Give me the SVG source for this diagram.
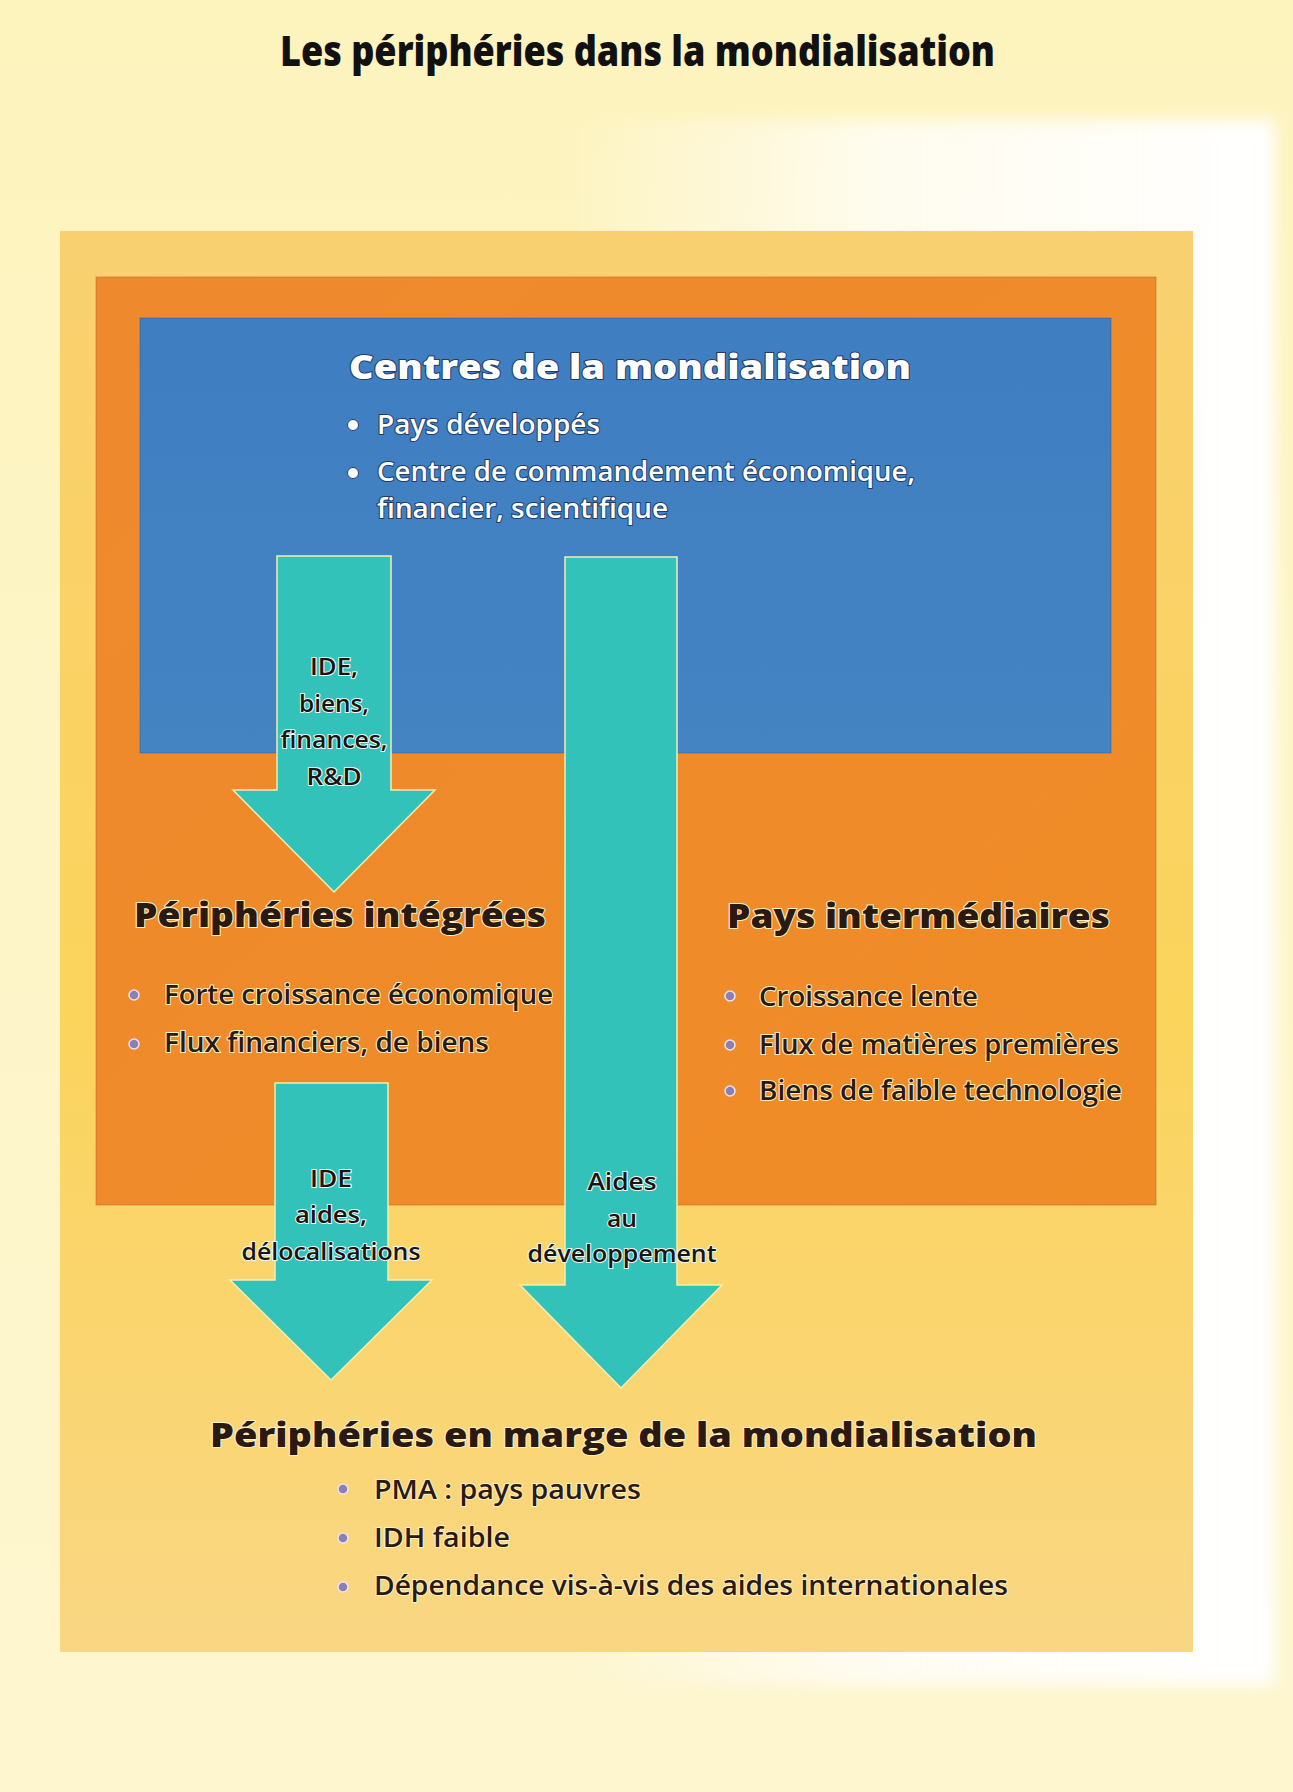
<svg xmlns="http://www.w3.org/2000/svg" width="1293" height="1792" viewBox="0 0 1293 1792">
  <defs>
    <linearGradient id="pageGrad" x1="0" y1="0" x2="0" y2="1">
      <stop offset="0" stop-color="#fdf3bd"/>
      <stop offset="0.5" stop-color="#fdf5c8"/>
      <stop offset="1" stop-color="#fdf6cf"/>
    </linearGradient>
    <linearGradient id="whiteFade" x1="0" y1="0" x2="1" y2="0">
      <stop offset="0" stop-color="#ffffff" stop-opacity="0"/>
      <stop offset="0.45" stop-color="#ffffff" stop-opacity="0.75"/>
      <stop offset="1" stop-color="#ffffff" stop-opacity="1"/>
    </linearGradient>
    <linearGradient id="outerGrad" x1="0" y1="0" x2="0" y2="1">
      <stop offset="0" stop-color="#f9d070"/>
      <stop offset="0.55" stop-color="#fbd45c"/>
      <stop offset="1" stop-color="#f9d683"/>
    </linearGradient>
    <linearGradient id="orangeGrad" x1="0" y1="0" x2="1" y2="1">
      <stop offset="0" stop-color="#ee892e"/>
      <stop offset="1" stop-color="#f08c26"/>
    </linearGradient>
    <linearGradient id="blueGrad" x1="0" y1="0" x2="0" y2="1">
      <stop offset="0" stop-color="#3e7ec1"/>
      <stop offset="1" stop-color="#4584c3"/>
    </linearGradient>
    <filter id="soft" x="-5%" y="-5%" width="110%" height="110%">
      <feGaussianBlur stdDeviation="8"/>
    </filter>
    <style>
      .title { font-family: "Open Sans", "Noto Sans", "DejaVu Sans", sans-serif; font-weight: 800; font-size: 42px; fill: #111; }
      .head { font-family: "Open Sans", "Noto Sans", "DejaVu Sans", sans-serif; font-weight: 800; font-size: 34px; }
      .item { font-family: "Open Sans", "Noto Sans", "DejaVu Sans", sans-serif; font-weight: 600; font-size: 27px; }
      .lbl { font-family: "Open Sans", "Noto Sans", "DejaVu Sans", sans-serif; font-weight: 600; font-size: 24px; fill: #1c1410; stroke: #eafaf6; stroke-width: 2; paint-order: stroke; text-anchor: middle; }
      .light { fill: #ffffff; stroke: #1f3d6c; stroke-width: 2; paint-order: stroke; }
      .dark { fill: #2a1a12; stroke: #fff1c4; stroke-width: 2; paint-order: stroke; }
      .wdot { fill: #ffffff; stroke: #24426f; stroke-width: 1; }
      .pdot { fill: #8a80b6; stroke: #efe2ef; stroke-width: 1.5; }
      .arrow { fill: #33c2ba; stroke: #f6eeb0; stroke-width: 1.5; stroke-linejoin: miter; }
    </style>
  </defs>

  <!-- page background -->
  <rect x="0" y="0" width="1293" height="1792" fill="url(#pageGrad)"/>
  <rect x="560" y="120" width="715" height="1565" fill="url(#whiteFade)" filter="url(#soft)"/>

  <!-- title -->
  <text class="title" x="280" y="66" textLength="715" lengthAdjust="spacingAndGlyphs">Les périphéries dans la mondialisation</text>

  <!-- frames -->
  <rect x="60" y="231" width="1133" height="1421" fill="url(#outerGrad)"/>
  <rect x="96" y="277" width="1060" height="928" fill="url(#orangeGrad)" stroke="#b8662a" stroke-width="1" stroke-opacity="0.5"/>

  <!-- Centres -->
  <g id="node-centres">
    <rect x="140" y="318" width="971" height="435" fill="url(#blueGrad)" stroke="#2d5e94" stroke-width="1" stroke-opacity="0.5"/>
    <text class="head light" x="349" y="379" textLength="562" lengthAdjust="spacingAndGlyphs">Centres de la mondialisation</text>
    <circle class="wdot" cx="353" cy="425" r="5.5"/>
    <text class="item light" x="377" y="434" textLength="223" lengthAdjust="spacingAndGlyphs">Pays développés</text>
    <circle class="wdot" cx="353" cy="473" r="5.5"/>
    <text class="item light" x="377" y="481" textLength="538" lengthAdjust="spacingAndGlyphs">Centre de commandement économique,</text>
    <text class="item light" x="377" y="518" textLength="291" lengthAdjust="spacingAndGlyphs">financier, scientifique</text>
  </g>

  <!-- Périphéries intégrées -->
  <g id="node-integrees">
    <text class="head dark" x="134" y="927" textLength="412" lengthAdjust="spacingAndGlyphs">Périphéries intégrées</text>
    <circle class="pdot" cx="134" cy="995" r="5"/>
    <text class="item dark" x="164" y="1004" textLength="389" lengthAdjust="spacingAndGlyphs">Forte croissance économique</text>
    <circle class="pdot" cx="134" cy="1044" r="5"/>
    <text class="item dark" x="164" y="1052" textLength="325" lengthAdjust="spacingAndGlyphs">Flux financiers, de biens</text>
  </g>

  <!-- Pays intermédiaires -->
  <g id="node-intermediaires">
    <text class="head dark" x="727" y="928" textLength="383" lengthAdjust="spacingAndGlyphs">Pays intermédiaires</text>
    <circle class="pdot" cx="730" cy="996" r="5"/>
    <text class="item dark" x="759" y="1006" textLength="219" lengthAdjust="spacingAndGlyphs">Croissance lente</text>
    <circle class="pdot" cx="730" cy="1045" r="5"/>
    <text class="item dark" x="759" y="1054" textLength="360" lengthAdjust="spacingAndGlyphs">Flux de matières premières</text>
    <circle class="pdot" cx="730" cy="1091" r="5"/>
    <text class="item dark" x="759" y="1100" textLength="363" lengthAdjust="spacingAndGlyphs">Biens de faible technologie</text>
  </g>

  <!-- Périphéries en marge -->
  <g id="node-marge">
    <text class="head dark" x="210" y="1447" textLength="827" lengthAdjust="spacingAndGlyphs">Périphéries en marge de la mondialisation</text>
    <circle class="pdot" cx="343" cy="1489" r="5"/>
    <text class="item dark" x="374" y="1499" textLength="267" lengthAdjust="spacingAndGlyphs">PMA : pays pauvres</text>
    <circle class="pdot" cx="343" cy="1538" r="5"/>
    <text class="item dark" x="374" y="1547" textLength="136" lengthAdjust="spacingAndGlyphs">IDH faible</text>
    <circle class="pdot" cx="343" cy="1587" r="5"/>
    <text class="item dark" x="374" y="1595" textLength="634" lengthAdjust="spacingAndGlyphs">Dépendance vis-à-vis des aides internationales</text>
  </g>

  <!-- connectors -->
  <g id="connectors">
    <g id="arrow-centres-integrees">
      <polygon class="arrow" points="277,556 391,556 391,790 435,790 334,892 233,790 277,790"/>
      <text class="lbl" x="334" y="675" textLength="48" lengthAdjust="spacingAndGlyphs">IDE,</text>
      <text class="lbl" x="334" y="712" textLength="70" lengthAdjust="spacingAndGlyphs">biens,</text>
      <text class="lbl" x="334" y="748" textLength="107" lengthAdjust="spacingAndGlyphs">finances,</text>
      <text class="lbl" x="334" y="785" textLength="55" lengthAdjust="spacingAndGlyphs">R&amp;D</text>
    </g>
    <g id="arrow-integrees-marge">
      <polygon class="arrow" points="275,1083 388,1083 388,1280 432,1280 331,1380 230,1280 275,1280"/>
      <text class="lbl" x="331" y="1187" textLength="42" lengthAdjust="spacingAndGlyphs">IDE</text>
      <text class="lbl" x="331" y="1223" textLength="72" lengthAdjust="spacingAndGlyphs">aides,</text>
      <text class="lbl" x="331" y="1260" textLength="179" lengthAdjust="spacingAndGlyphs">délocalisations</text>
    </g>
    <g id="arrow-centres-marge">
      <polygon class="arrow" points="565,557 677,557 677,1285 722,1285 621,1388 520,1285 565,1285"/>
      <text class="lbl" x="622" y="1190" textLength="69" lengthAdjust="spacingAndGlyphs">Aides</text>
      <text class="lbl" x="622" y="1227" textLength="30" lengthAdjust="spacingAndGlyphs">au</text>
      <text class="lbl" x="622" y="1262" textLength="189" lengthAdjust="spacingAndGlyphs">développement</text>
    </g>
  </g>
</svg>
